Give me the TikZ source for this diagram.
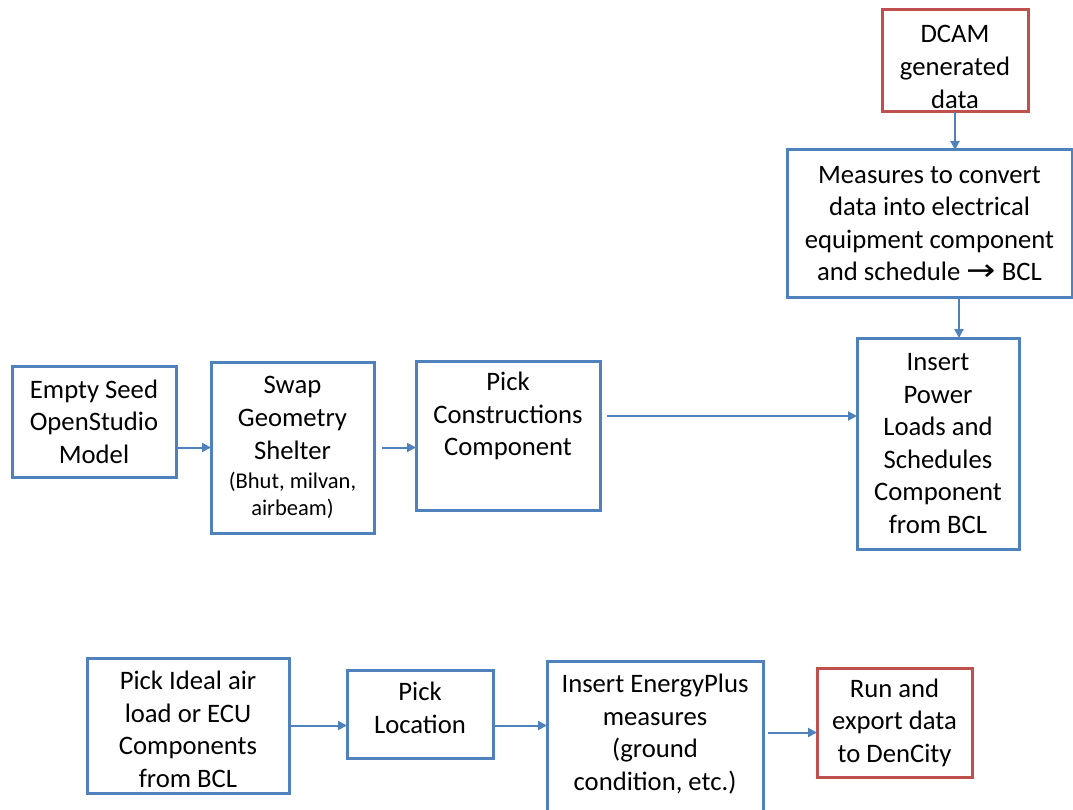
\documentclass[tikz,border=0pt]{standalone}
\usepackage{fontspec}
\usepackage{graphicx}
\setmainfont{Carlito}
\newfontfamily\djv{DejaVu Sans}
\usetikzlibrary{arrows.meta}
\definecolor{boxblue}{HTML}{4F81BD}
\definecolor{boxred}{HTML}{C0504D}
\newcommand{\smalltxt}{\fontsize{22.5pt}{27pt}\selectfont}
\tikzset{
  box/.style={draw=boxblue, line width=3pt, rectangle, inner sep=0pt, outer sep=0pt,
    align=center, font=\fontsize{26.67pt}{32.6pt}\selectfont, text=black},
  redbox/.style={box, draw=boxred},
  txt/.style={inner sep=0pt, align=center, font=\fontsize{26.67pt}{32.6pt}\selectfont},
  arr/.style={draw=boxblue, line width=2pt, -{Triangle[length=9pt,width=9pt]}}
}
\begin{document}
\begin{tikzpicture}[x=1pt,y=-1pt]
\useasboundingbox (0,0) rectangle (1073,810);
% top row
\node[box, minimum width=164pt, minimum height=111pt] (empty) at (94,421.5)
  {Empty Seed\\OpenStudio\\Model};
\node[box, minimum width=163pt, minimum height=171pt] (swap) at (292.5,447.5)
  {Swap\\Geometry\\Shelter\\[-3pt]{\smalltxt (Bhut, milvan,}\\[-6pt]{\smalltxt airbeam)}};
\node[box, minimum width=184pt, minimum height=149pt] (pick) at (508,435.5) {};
\node[txt] (picktxt) at (508,416) {Pick\\Constructions\\Component};
\node[box, minimum width=162pt, minimum height=211pt] (ins) at (938,443.5)
  {Insert\\Power\\Loads and\\Schedules\\Component\\from BCL};
\node[redbox, minimum width=146pt, minimum height=102pt] (dcam) at (955,61) {};
\node[txt] (dcamtxt) at (955,67) {DCAM\\generated\\data};
\node[box, minimum width=285pt, minimum height=147pt] (meas) at (929.5,223.5)
  {Measures to convert\\data into electrical\\equipment component\\and schedule {\djv\fontsize{26pt}{32pt}\selectfont\scalebox{1.35}[1.15]{→}} BCL};
% bottom row
\node[box, minimum width=202pt, minimum height=135pt] (ideal) at (188,725.5) {};
\node[txt] (idealtxt) at (188,729.5) {Pick Ideal air\\load or ECU\\Components\\from BCL};
\node[box, minimum width=146pt, minimum height=88pt] (loc) at (420,714) {};
\node[txt] (loctxt) at (420,708) {Pick\\Location};
\node[box, minimum width=216pt, minimum height=152pt] (ep) at (655,737) {};
\node[txt] (eptxt) at (655,734) {Insert EnergyPlus\\measures\\(ground\\condition, etc.)};
\node[redbox, minimum width=155pt, minimum height=109pt] (run) at (894.5,722.5)
  {Run and\\export data\\to DenCity};
% connectors
\draw[arr] (empty.east |- swap.west) -- (swap.west);
\draw[arr] ([xshift=8pt]swap.east) -- (swap.east -| pick.west);
\draw[arr] ([xshift=7pt]pick.east |- picktxt) -- (picktxt -| ins.west);
\draw[arr] (dcam.south) -- (dcam.south |- meas.north);
\draw[arr] ([xshift=21pt]ins.north |- meas.south) -- ([xshift=21pt]ins.north);
\draw[arr] (ideal.east) -- (ideal.east -| loc.west);
\draw[arr] (loc.east |- ideal.east) -- (ideal.east -| ep.west);
\draw[arr] ([xshift=5pt,yshift=4.5pt]ep.east) -- ([yshift=4.5pt]ep.east -| run.west);
\end{tikzpicture}
\end{document}
